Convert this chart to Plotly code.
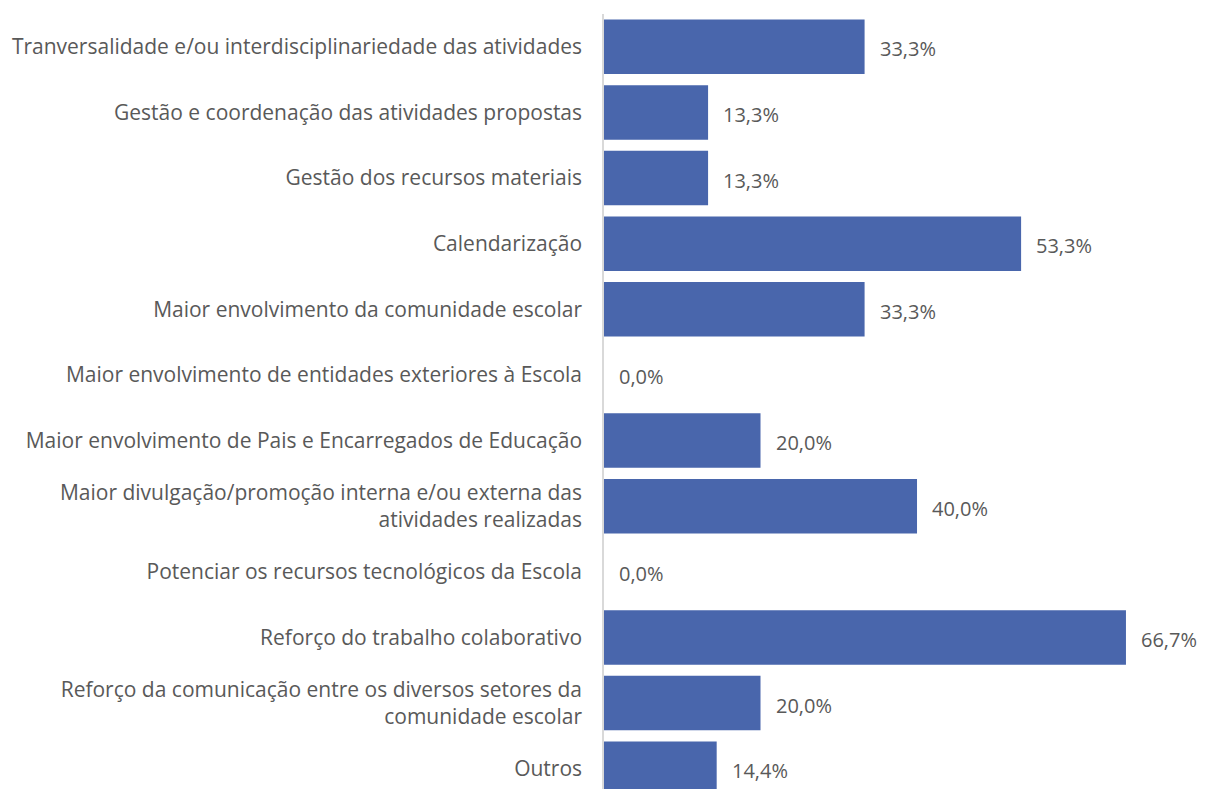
import plotly.graph_objects as go

categories = [
    "Tranversalidade e/ou interdisciplinariedade das atividades",
    "Gestão e coordenação das atividades propostas",
    "Gestão dos recursos materiais",
    "Calendarização",
    "Maior envolvimento da comunidade escolar",
    "Maior envolvimento de entidades exteriores à Escola",
    "Maior envolvimento de Pais e Encarregados de Educação",
    "Maior divulgação/promoção interna e/ou externa das<br>atividades realizadas",
    "Potenciar os recursos tecnológicos da Escola",
    "Reforço do trabalho colaborativo",
    "Reforço da comunicação entre os diversos setores da<br>comunidade escolar",
    "Outros",
]
values = [33.3, 13.3, 13.3, 53.3, 33.3, 0.0, 20.0, 40.0, 0.0, 66.7, 20.0, 14.4]
labels = [f"{v:.1f}%".replace(".", ",") for v in values]

BAR = "#4966AC"
GRAY = "#595959"
FONT = "Open Sans"

fig = go.Figure(go.Bar(
    x=values, y=categories, orientation="h",
    marker=dict(color=BAR, line=dict(width=0)),
    hoverinfo="skip",
))

for c, v, t in zip(categories, values, labels):
    fig.add_annotation(x=v, y=c, text=t, showarrow=False, xanchor="left",
                       xshift=13, yshift=-2,
                       font=dict(family=FONT, size=20, color=GRAY))

fig.update_layout(
    width=1205, height=789,
    margin=dict(l=604, r=0, t=14, b=0),
    paper_bgcolor="white", plot_bgcolor="white",
    bargap=0.17,
    showlegend=False,
    font=dict(family=FONT, size=20, color=GRAY),
)
fig.update_xaxes(range=[0, 76.8], showgrid=False, zeroline=False,
                 showticklabels=False, showline=False)
fig.update_yaxes(range=[11.31, -0.5], showgrid=False, zeroline=False,
                 showline=True, linecolor="#D9D9D9", linewidth=1.5,
                 ticks="", ticklabelstandoff=16,
                 tickfont=dict(family=FONT, size=21, color=GRAY))

fig.write_html("out.html", config={"displayModeBar": False},
               post_script="document.body.style.margin='0';document.body.style.overflow='hidden';")
